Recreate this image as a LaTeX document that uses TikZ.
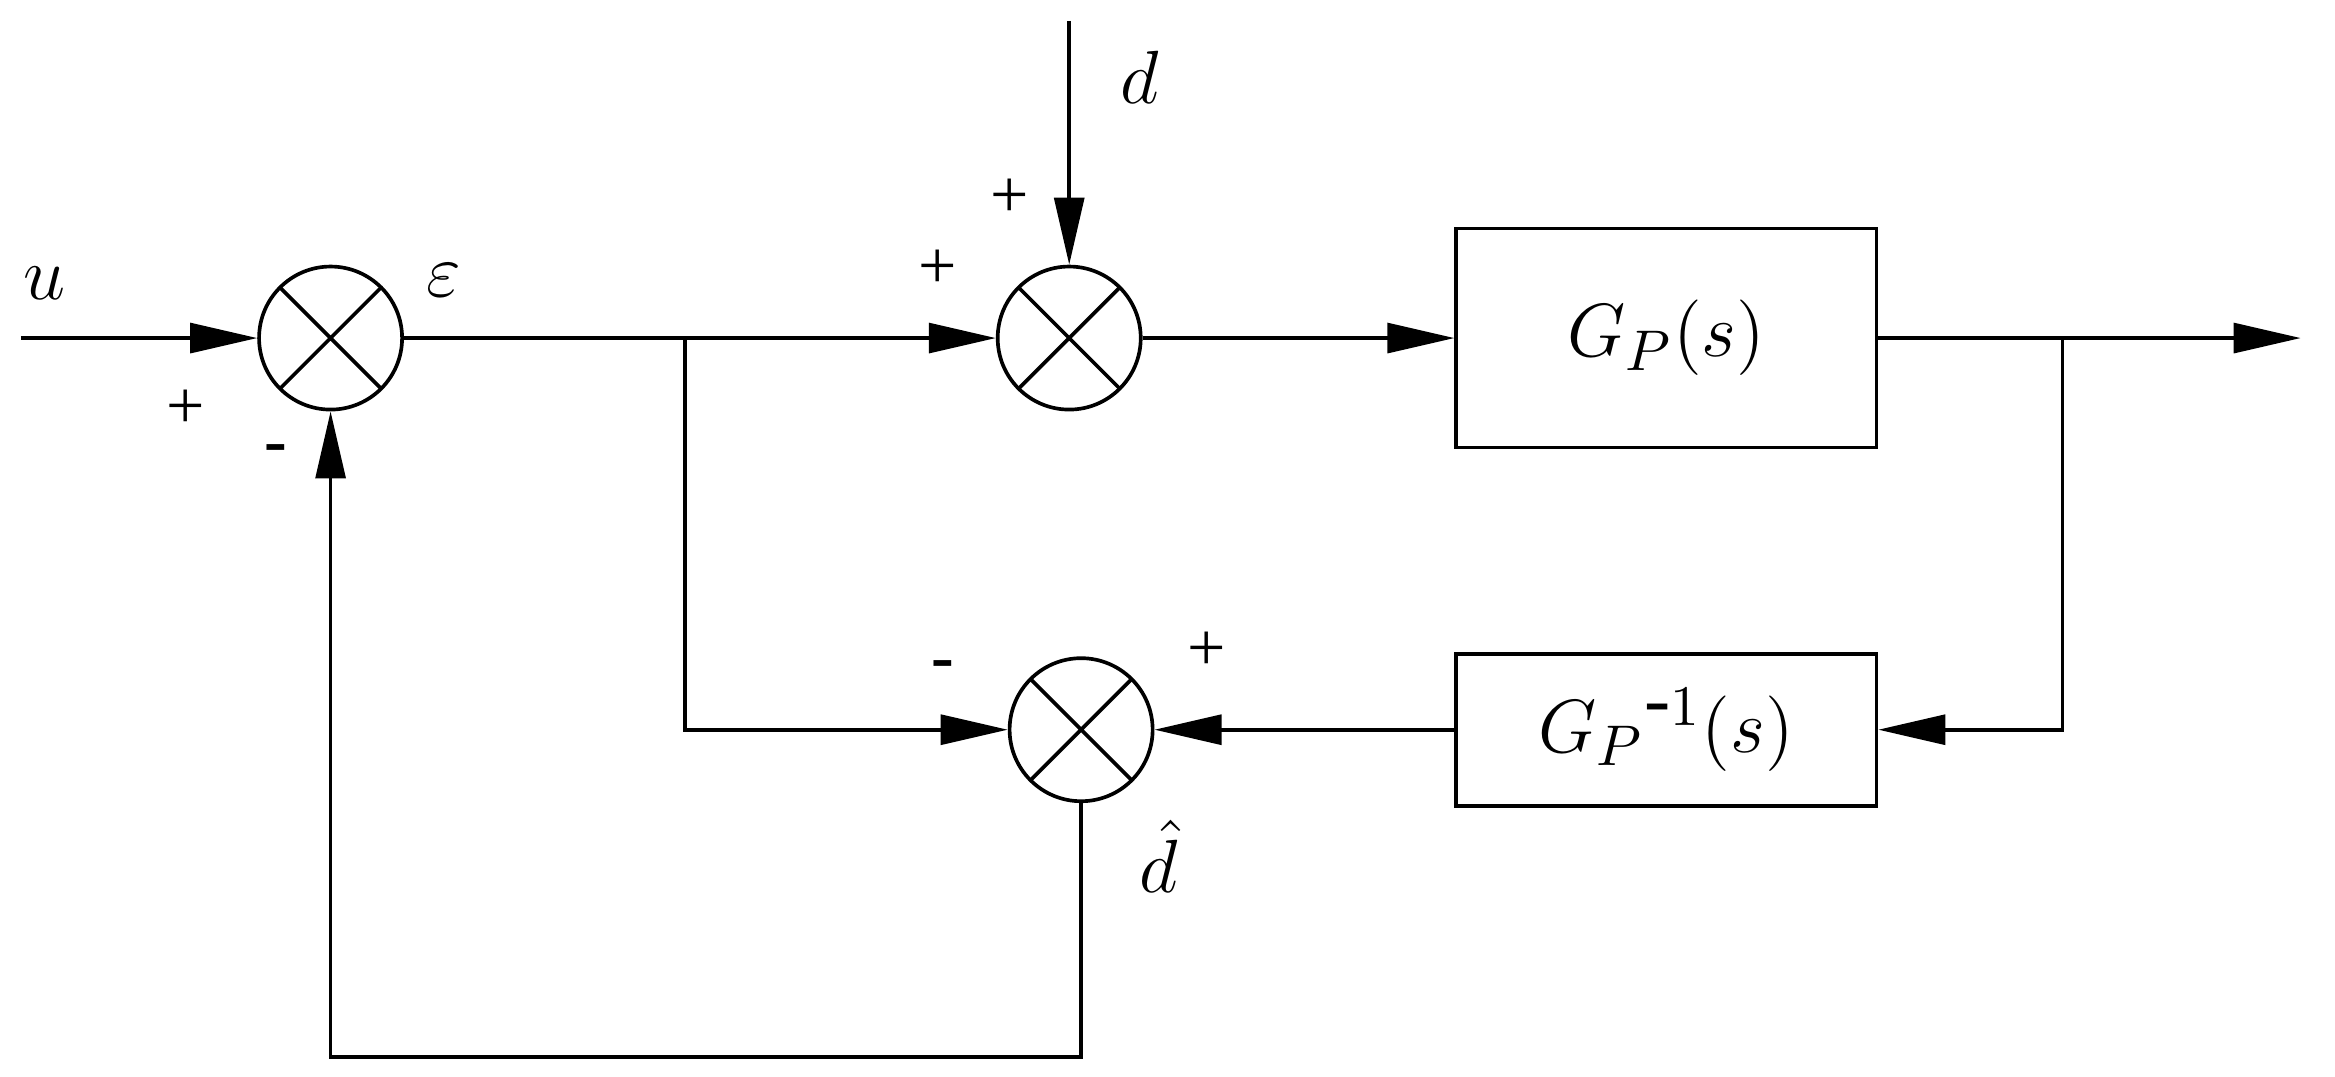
\documentclass[tikz,border=0pt]{standalone}
\usepackage{fontspec}
\setmainfont{Liberation Serif}
\usetikzlibrary{arrows.meta}
\begin{document}
\begin{tikzpicture}[x=0.01cm,y=-0.01cm,line width=0.7pt,
  sum/.style={circle,draw,minimum size=0.96cm,inner sep=0pt,
    path picture={\draw (path picture bounding box.north west)--(path picture bounding box.south east)
      (path picture bounding box.north east)--(path picture bounding box.south west);}},
  blk/.style={draw,rectangle,inner sep=0pt},
  arr/.style={-{Triangle[length=0.45cm,width=0.2cm]}},
  lab/.style={font=\fontsize{15}{18}\selectfont},
  sgn/.style={font=\fontsize{13}{15}\selectfont}]
\useasboundingbox (0,0) rectangle (1568,723);
\node[sum] (s1) at (222,227) {};
\node[sum] (s2) at (718,227) {};
\node[sum] (s3) at (726,490) {};
\node[blk,minimum width=2.82cm,minimum height=1.47cm,lab] (gp) at (1119,227) {$G_P(s)$};
\node[blk,minimum width=2.82cm,minimum height=1.02cm,lab] (gi) at (1119,490) {$G_P{}^{\mbox{-}1}(s)$};
\coordinate (u) at (14,227);
\coordinate (d) at (718,14);
\coordinate (out) at (1545,227);
\coordinate (b1) at (460,227);
\coordinate (b1d) at (460,490);
\coordinate (b2) at (1385,227);
\coordinate (b2d) at (1385,490);
\coordinate (c1) at (726,710);
\coordinate (c2) at (222,710);
\draw[arr] (u) -- (s1);
\draw[arr] (s1) -- (s2);
\draw[arr] (d) -- (s2);
\draw[arr] (s2) -- (gp);
\draw[arr] (gp) -- (out);
\draw[arr] (b1) -- (b1d) -- (s3.west);
\draw[arr] (b2) -- (b2d) -- (gi.east);
\draw[arr] (gi) -- (s3);
\draw[arr] (s3) -- (c1) -- (c2) -- (s1);
\node[lab] (lu) at (30,190) {$u$};
\node[lab] (le) at (298,188) {$\varepsilon$};
\node[lab] (ld) at (765,52) {$d$};
\node[lab] (ldh) at (778,575) {$\hat{d}$};
\node[sgn] (p1) at (125,275) {+};
\node[sgn] (m1) at (185,305) {\textbf{-}};
\node[sgn] (p2) at (678,133) {+};
\node[sgn] (p3) at (630,181) {+};
\node[sgn] (p4) at (810,437) {+};
\node[sgn] (m3) at (633,450) {\textbf{-}};
\end{tikzpicture}
\end{document}
